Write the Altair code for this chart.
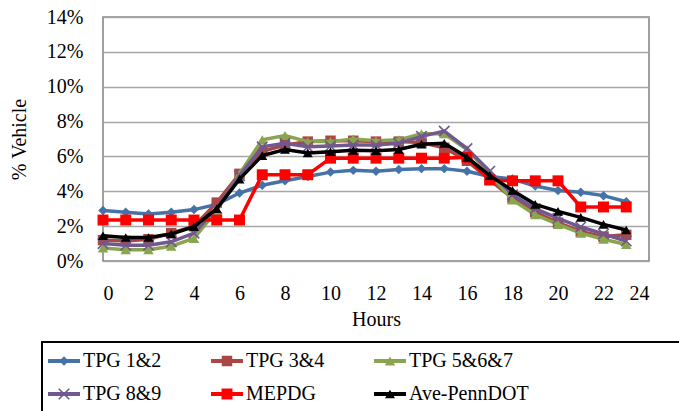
import altair as alt
import pandas as pd

# Hourly share of daily truck volume (%), by truck pattern group
hours = list(range(24))
tpg_1_2 = [2.9, 2.8, 2.7, 2.8, 2.95, 3.25, 3.9, 4.35, 4.6, 4.85, 5.1, 5.2,
           5.15, 5.25, 5.3, 5.3, 5.15, 4.85, 4.7, 4.3, 4.05, 3.95, 3.75, 3.4]
tpg_3_4 = [1.2, 1.15, 1.25, 1.6, 2.0, 3.35, 5.0, 6.3, 6.65, 6.85, 6.9, 6.9,
           6.85, 6.85, 6.8, 6.5, 5.75, 4.65, 3.6, 2.8, 2.2, 1.7, 1.4, 1.5]
tpg_5_6_7 = [0.75, 0.65, 0.65, 0.85, 1.3, 2.9, 5.0, 6.95, 7.2, 6.85, 6.85, 7.0,
             6.9, 6.95, 7.3, 7.3, 6.4, 5.0, 3.5, 2.65, 2.1, 1.6, 1.25, 0.95]
tpg_8_9 = [1.0, 0.9, 0.9, 1.1, 1.6, 3.0, 4.9, 6.55, 6.75, 6.55, 6.6, 6.65,
           6.65, 6.75, 7.15, 7.45, 6.45, 5.15, 3.8, 3.0, 2.45, 1.95, 1.55, 1.15]
mepdg = [2.35, 2.35, 2.35, 2.35, 2.35, 2.35, 2.35, 4.95, 4.95, 4.95, 5.9, 5.9,
         5.9, 5.9, 5.9, 5.9, 5.95, 4.65, 4.6, 4.6, 4.6, 3.1, 3.1, 3.1]
ave_penndot = [1.45, 1.35, 1.35, 1.55, 1.97, 3.0, 4.7, 6.05, 6.4, 6.2, 6.27, 6.35,
               6.33, 6.4, 6.7, 6.75, 5.95, 4.9, 4.05, 3.25, 2.85, 2.5, 2.1, 1.78]

series_names = ["TPG 1&2", "TPG 3&4", "TPG 5&6&7", "TPG 8&9", "MEPDG", "Ave-PennDOT"]
series_values = [tpg_1_2, tpg_3_4, tpg_5_6_7, tpg_8_9, mepdg, ave_penndot]
series_colors = ["#4572A7", "#AA4643", "#89A54E", "#71588F", "#FF0000", "#000000"]
x_shape = "M-1,-1L1,1M-1,1L1,-1"
series_shapes = ["diamond", "square", "triangle-up", x_shape, "square", "triangle-up"]
series_sizes = [90, 110, 110, 110, 120, 100]
series_filled = [True, True, True, False, True, True]
legend_col = [0, 1, 2, 0, 1, 2]
legend_row = [0, 0, 0, 1, 1, 1]

FONT = "Liberation Serif"
FS = 20

rows = []
for name, vals in zip(series_names, series_values):
    for h, v in zip(hours, vals):
        rows.append({"series": name, "hour": h, "pct": v})
df = pd.DataFrame(rows)

legend_df = pd.DataFrame({"series": series_names, "col": legend_col, "row": legend_row})

axis_style = dict(
    labelFont=FONT, labelFontSize=FS, labelColor="black",
    titleFont=FONT, titleFontSize=FS, titleColor="black", titleFontWeight="normal",
    gridColor="#A6A6A6", gridWidth=1.5, ticks=False, domain=False,
)

x_enc = alt.X(
    "hour:Q",
    scale=alt.Scale(domain=[0, 24], nice=False),
    axis=alt.Axis(values=list(range(0, 25, 2)), title="Hours", grid=False,
                  labelPadding=22, titlePadding=6, **axis_style),
)
y_enc = alt.Y(
    "pct:Q",
    scale=alt.Scale(domain=[0, 14], nice=False),
    axis=alt.Axis(values=list(range(0, 15, 2)), labelExpr="datum.value + '%'",
                  title="% Vehicle", labelPadding=20, titlePadding=17, **axis_style),
)

layers = []
for i, name in enumerate(series_names):
    base = alt.Chart(df).transform_filter(alt.datum.series == name)
    line = base.mark_line(color=series_colors[i], strokeWidth=3.5).encode(x=x_enc, y=y_enc)
    pts = base.mark_point(
        shape=series_shapes[i], size=series_sizes[i], filled=series_filled[i],
        color=series_colors[i], opacity=1,
        strokeWidth=1.5 if series_filled[i] else 1.6,
    ).encode(x=x_enc, y=y_enc)
    layers += [line, pts]

# Legend box under the plot
legend_box = alt.Chart(legend_df).mark_rect(
    fill="white", fillOpacity=0, stroke="#000000", strokeWidth=1.2
).encode(x=alt.value(-61), x2=alt.value(620), y=alt.value(325), y2=alt.value(440))
layers.append(legend_box)

leg_base = alt.Chart(legend_df).transform_calculate(
    lx0="-55 + datum.col * 163",
    lx1="-23 + datum.col * 163",
    lxm="-39 + datum.col * 163",
    ltx="-20 + datum.col * 163",
    ly="344 + datum.row * 33",
)
for i, name in enumerate(series_names):
    b = leg_base.transform_filter(alt.datum.series == name)
    layers.append(
        b.mark_rule(color=series_colors[i], strokeWidth=4).encode(
            x=alt.X("lx0:Q", scale=None), x2="lx1:Q", y=alt.Y("ly:Q", scale=None)
        )
    )
    layers.append(
        b.mark_point(shape=series_shapes[i], size=series_sizes[i], filled=series_filled[i],
                     color=series_colors[i], opacity=1, strokeWidth=1.6).encode(
            x=alt.X("lxm:Q", scale=None), y=alt.Y("ly:Q", scale=None)
        )
    )
layers.append(
    leg_base.mark_text(align="left", baseline="middle", font=FONT, fontSize=FS,
                       color="black").encode(
        x=alt.X("ltx:Q", scale=None), y=alt.Y("ly:Q", scale=None), text="series:N"
    )
)

chart = alt.layer(*layers).properties(
    width=546, height=244,
    background="white",
    autosize=alt.AutoSizeParams(type="none"),
    padding={"left": 103, "top": 17, "right": 30, "bottom": 150},
).configure_view(
    stroke="#808080", strokeWidth=1.5
)

chart.save("out.html", embed_options={"renderer": "svg", "actions": False})
